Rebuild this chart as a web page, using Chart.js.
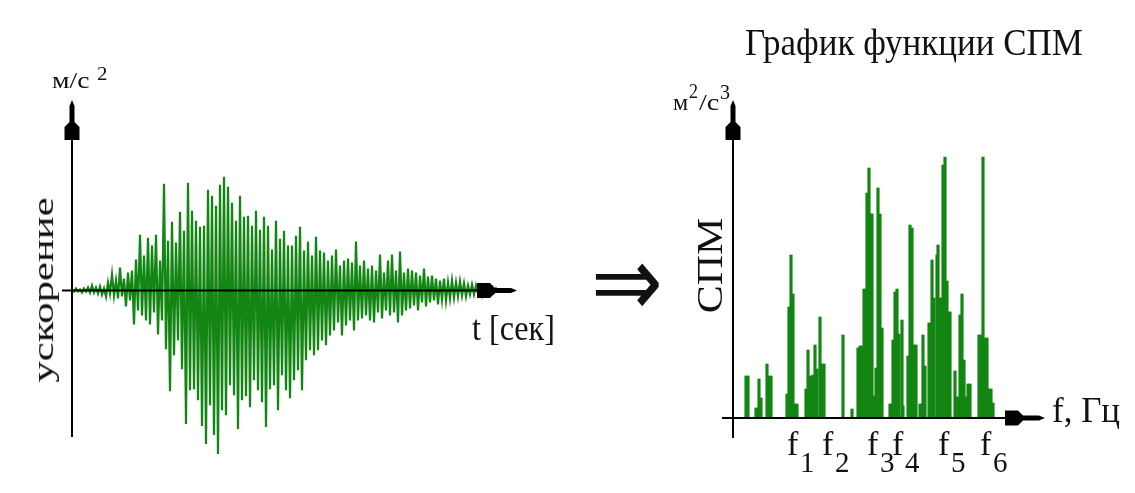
<!DOCTYPE html>
<html lang="ru">
<head>
<meta charset="UTF-8">
<title>График функции СПМ</title>
<style>
    body {
        margin: 0;
        width: 1135px;
        height: 493px;
        position: relative;
        overflow: hidden;
        background: #fff;
        color: #111;
        font-family: "Liberation Serif", "Times New Roman", serif;
    }

    canvas {
        position: absolute;
        top: 0;
    }

    #accelChart { left: 0; }
    #spmChart { left: 560px; }

    .lbl {
        position: absolute;
        white-space: nowrap;
        line-height: 1;
        transform-origin: 0 0;
    }
</style>
</head>
<body>
<canvas id="accelChart" width="560" height="493"></canvas>
<canvas id="spmChart" width="575" height="493"></canvas>

<!-- подписи -->
<div class="lbl" data-x="745" data-base="55" data-size="38" data-w="338">График функции СПМ</div>
<div class="lbl" data-x="52" data-base="88" data-size="24" data-w="38">м/с</div>
<div class="lbl" data-x="97" data-base="80" data-size="19" data-w="11">2</div>
<div class="lbl" data-rot="1" data-cx="43" data-cy="290" data-size="30" data-w="185">ускорение</div>
<div class="lbl" data-x="472" data-base="340" data-size="36" data-w="83">t [сек]</div>
<div class="lbl" data-x="591" data-base="316" data-size="100" data-w="72" style="font-family:'DejaVu Sans'">⇒</div>
<div class="lbl" data-x="673" data-base="110" data-size="24" data-w="15">м</div>
<div class="lbl" data-x="689" data-base="98" data-size="20" data-w="9">2</div>
<div class="lbl" data-x="699" data-base="110" data-size="24" data-w="20">/с</div>
<div class="lbl" data-x="720" data-base="99" data-size="22" data-w="10">3</div>
<div class="lbl" data-rot="1" data-cx="711" data-cy="265" data-size="35" data-w="96">СПМ</div>
<div class="lbl" data-x="1052" data-base="422" data-size="36" data-w="68">f, Гц</div>

<script src="https://cdn.jsdelivr.net/npm/chart.js"></script>
<script>
    // ускорение (отсчёты сигнала), м/с2
    const accel = [
        1, -1, 2, -1, 1, -2, 2, -1, 3, -2,
        5, -2, 3, -3, 4, -4, 2, -6, 8, -3,
        16, -5, 10, -8, 23, -6, 12, -16, 18, -10,
        20, -34, 31, -20, 56, -25, 35, -30, 53, -34,
        45, -22, 56, -44, 30, -30, 107, -59, 50, -101,
        69, -65, 48, -50, 79, -79, 60, -134, 108, -100,
        80, -99, 70, -110, 64, -136, 65, -154, 101, -115,
        95, -145, 85, -164, 106, -120, 114, -125, 104, -95,
        88, -105, 70, -139, 95, -110, 74, -106, 75, -117,
        65, -90, 80, -100, 61, -112, 74, -137, 65, -99,
        41, -95, 70, -120, 52, -85, 60, -100, 45, -108,
        45, -90, 55, -80, 64, -100, 40, -70, 49, -60,
        35, -65, 54, -60, 40, -50, 38, -55, 30, -45,
        35, -40, 41, -32, 25, -45, 30, -35, 32, -30,
        28, -40, 49, -30, 25, -28, 30, -25, 22, -30,
        25, -32, 20, -22, 36, -28, 18, -20, 30, -25,
        36, -22, 20, -32, 39, -25, 18, -20, 22, -18,
        20, -15, 18, -20, 15, -12, 22, -16, 14, -12,
        15, -10, 12, -14, 10, -9, 12, -10, 8, -8,
        10, -7, 8, -6, 9, -5, 7, -6, 5, -4,
        6, -4, 5, -3, 4, -5, 3, -3, 4, -2, 3, -2, 2, -1
    ];

    // спектр: частота (усл. ед.) и значение СПМ
    const specFreq = [11, 13, 21, 23, 24, 26, 32, 34, 36,
        52, 54, 56, 58, 60, 62,
        71, 73, 75, 77, 78, 80, 82, 85, 87, 89,
        108, 117,
        123, 125, 127, 129, 131, 132, 134, 136, 137, 139, 141, 143, 145, 147,
        155, 157, 158, 160, 162, 164, 167, 168,
        173, 175, 177, 179, 181,
        185, 187, 188, 190,
        194, 196, 197, 199, 202, 203, 205, 207, 208, 210, 212, 214, 215,
        220, 222, 223, 225, 227, 229, 231, 233, 235,
        244, 246, 248, 250, 252, 254, 256, 258];
    const specVals = [42, 42, 10, 10, 39, 20, 54, 42, 42,
        24, 111, 163, 124, 14, 14,
        29, 68, 42, 42, 43, 73, 49, 101, 54, 54,
        83, 9,
        70, 72, 72, 129, 129, 225, 250, 204, 204, 22, 50, 230, 204, 90,
        14, 14, 78, 126, 129, 84, 98, 12,
        62, 193, 190, 73, 73,
        14, 14, 83, 52,
        95, 95, 158, 120, 163, 173, 120, 120, 253, 261, 137, 106, 106,
        47, 21, 21, 103, 124, 58, 21, 34, 34,
        83, 83, 261, 80, 80, 29, 29, 15];

    // подписи частот f1..f6
    const fTicks = [52, 87, 132, 157, 203, 245];
    const fIndex = ['1', '2', '3', '4', '5', '6'];

    const green = '#128512';

    // стрелка: (x, y) – острие
    function arrow(ctx, x, y, dir) {
        ctx.save();
        ctx.translate(x, y);
        if (dir === 'right') ctx.rotate(Math.PI / 2);
        ctx.beginPath();
        ctx.moveTo(0, 0);
        ctx.lineTo(2.5, 6);
        ctx.lineTo(2.5, 22);
        ctx.lineTo(7.5, 27);
        ctx.lineTo(7.5, 40);
        ctx.lineTo(-7.5, 40);
        ctx.lineTo(-7.5, 27);
        ctx.lineTo(-2.5, 22);
        ctx.lineTo(-2.5, 6);
        ctx.closePath();
        ctx.fill();
        ctx.restore();
    }

    // оси со стрелками поверх графика
    const arrowAxes = {
        id: 'arrowAxes',
        afterDatasetsDraw(chart, args, opts) {
            const ctx = chart.ctx;
            const area = chart.chartArea;
            const y0 = chart.scales.y.getPixelForValue(0);
            const x0 = area.left;
            ctx.save();
            ctx.strokeStyle = '#000';
            ctx.fillStyle = '#000';
            ctx.lineWidth = 2;
            ctx.beginPath();
            ctx.moveTo(x0, opts.yBottom);
            ctx.lineTo(x0, opts.yTip + 30);
            ctx.moveTo(opts.xStart, y0);
            ctx.lineTo(opts.xTip - 30, y0);
            ctx.stroke();
            arrow(ctx, x0, opts.yTip, 'up');
            arrow(ctx, opts.xTip, y0, 'right');

            if (opts.ticks) {
                const sx = chart.scales.x;
                ctx.fillStyle = '#111';
                ctx.textAlign = 'left';
                ctx.textBaseline = 'alphabetic';
                fTicks.forEach((f, i) => {
                    const px = sx.getPixelForValue(f);
                    ctx.font = '34px "Liberation Serif"';
                    ctx.fillText('f', px, 455);
                    ctx.font = '29px "Liberation Serif"';
                    ctx.fillText(fIndex[i], px + 13, 472);
                });
            }
            ctx.restore();
        }
    };

    new Chart(document.getElementById('accelChart'), {
        type: 'line',
        data: {
            datasets: [{
                data: accel.map((v, i) => ({ x: i, y: v })),
                borderColor: green,
                borderWidth: 2.2,
                pointRadius: 0,
                tension: 0,
                fill: false
            }]
        },
        options: {
            responsive: false,
            animation: false,
            layout: { padding: { left: 72, right: 48, top: 121, bottom: 33 } },
            scales: {
                x: { type: 'linear', min: 0, max: 220, display: false },
                y: { min: -170, max: 170, display: false }
            },
            plugins: {
                legend: { display: false },
                tooltip: { enabled: false },
                arrowAxes: { yTip: 100, yBottom: 437, xStart: 62, xTip: 517 }
            }
        },
        plugins: [arrowAxes]
    });

    new Chart(document.getElementById('spmChart'), {
        type: 'bar',
        data: {
            datasets: [{
                data: specFreq.map((f, i) => ({ x: f, y: specVals[i] })),
                backgroundColor: green,
                barThickness: 2.5
            }]
        },
        options: {
            responsive: false,
            animation: false,
            layout: { padding: { left: 173, right: 92, top: 98, bottom: 75 } },
            scales: {
                x: { type: 'linear', min: -2, max: 308, offset: false, display: false },
                y: { min: 0, max: 320, display: false }
            },
            plugins: {
                legend: { display: false },
                tooltip: { enabled: false },
                arrowAxes: { yTip: 100, yBottom: 438, xStart: 162, xTip: 485, ticks: true }
            }
        },
        plugins: [arrowAxes]
    });

    // подгонка подписей по ширине
    document.querySelectorAll('.lbl').forEach(el => {
        const d = el.dataset;
        const size = +d.size;
        el.style.fontSize = size + 'px';
        const w = el.offsetWidth;
        const h = el.offsetHeight;
        const k = d.w ? (+d.w / w) : 1;
        if (d.rot) {
            el.style.left = (+d.cx - w / 2) + 'px';
            el.style.top = (+d.cy - h / 2) + 'px';
            el.style.transformOrigin = '50% 50%';
            el.style.transform = 'rotate(-90deg) scale(' + k + ',1)';
        } else {
            el.style.left = d.x + 'px';
            el.style.top = (+d.base - 0.8375 * size) + 'px';
            el.style.transform = 'scale(' + k + ',1)';
        }
    });
</script>
</body>
</html>
